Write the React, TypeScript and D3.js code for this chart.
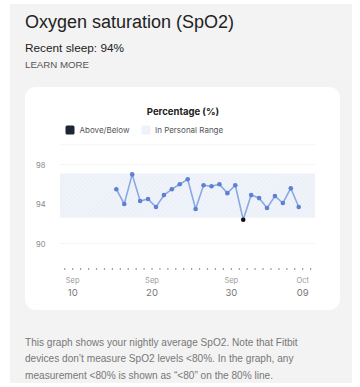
import React from "react";
import * as d3 from "d3";

// nightly SpO2 averages, Sep 15 – Oct 8
const startDay = Date.UTC(2023, 8, 15);
const values = [
  95.5, 94.0, 97.0, 94.3, 94.5, 93.7, 94.9, 95.5, 96.0, 96.5, 93.5, 95.9,
  95.8, 96.0, 95.1, 95.9, 92.4, 94.9, 94.6, 93.6, 94.8, 94.1, 95.6, 93.7,
];
const rangeLow = 92.6;
const rangeHigh = 97.1;
const yTicks = [98, 94, 90];
const gridValues = [100, 98, 90];
const xTickDates = [
  Date.UTC(2023, 8, 10),
  Date.UTC(2023, 8, 20),
  Date.UTC(2023, 8, 30),
  Date.UTC(2023, 9, 9),
];
const footerLines = [
  "This graph shows your nightly average SpO2. Note that Fitbit",
  "devices don\u2019t measure SpO2 levels <80%. In the graph, any",
  "measurement <80% is shown as \u201c<80\u201d on the 80% line.",
];

const DAY = 86400000;
const points = values.map((v, i) => ({ date: new Date(startDay + i * DAY + DAY / 2), v }));

export default function App() {
  const x = d3
    .scaleUtc()
    .domain([new Date(xTickDates[0]), new Date(xTickDates[3])])
    .range([72.7, 302.7]);
  const y = d3.scaleLinear().domain([90, 98]).range([243.5, 164.5]);
  const plotL = 60;
  const plotR = 315;

  const line = d3
    .line<{ date: Date; v: number }>()
    .x((d) => x(d.date))
    .y((d) => y(d.v));

  const axisDots = d3.utcDay.range(new Date(Date.UTC(2023, 8, 9)), new Date(Date.UTC(2023, 9, 11)));
  const monthFmt = d3.utcFormat("%b");
  const dayFmt = d3.utcFormat("%d");
  const chartFont = "Inter, Roboto, sans-serif";
  const headFont = "'Liberation Sans', Arial, sans-serif";

  return (
    <svg
      width={360}
      height={387}
      style={{ position: "absolute", left: 0, top: 0, background: "#fff" }}
    >
      <defs>
        <pattern id="hatch" width="3" height="3" patternUnits="userSpaceOnUse" patternTransform="rotate(45)">
          <rect width="3" height="3" fill="#f0f4fa" />
          <line x1="0" y1="0" x2="0" y2="3" stroke="#e2e9f4" strokeWidth="1" />
        </pattern>
      </defs>
      <rect x={10} y={4} width={342} height={379} fill="#f3f3f3" />
      <text x={25} y={27.5} fontFamily={headFont} fontSize={18} fill="#222">
        Oxygen saturation (SpO2)
      </text>
      <text x={25} y={51.5} fontFamily={headFont} fontSize={11.8} fill="#222">
        Recent sleep: 94%
      </text>
      <text x={25} y={68.3} fontFamily={headFont} fontSize={9.7} fill="#555">
        LEARN MORE
      </text>

      <rect x={25} y={87} width={315} height={223} rx={11} fill="#fff" />

      <text x={183} y={115} textAnchor="middle" fontFamily={chartFont} fontWeight={700} fontSize={9.5} fill="#222">
        Percentage (%)
      </text>
      <rect x={65.5} y={125.5} width={9} height={9} rx={1.5} fill="#1d2636" />
      <text x={79.5} y={132.5} fontFamily={chartFont} fontSize={8} fill="#555">
        Above/Below
      </text>
      <rect x={141.5} y={125.5} width={9} height={9} rx={1.5} fill="#eef2f9" />
      <text x={155} y={132.5} fontFamily={chartFont} fontSize={8} fill="#555">
        In Personal Range
      </text>

      {gridValues.map((g) => (
        <line key={g} x1={plotL} x2={plotR} y1={y(g)} y2={y(g)} stroke="#f4f4f4" strokeWidth={1} />
      ))}
      {yTicks.map((t) => (
        <text key={t} x={36} y={y(t) + 3} fontFamily={chartFont} fontSize={7.5} fill="#888">
          {t}
        </text>
      ))}

      <rect
        x={plotL}
        y={y(rangeHigh)}
        width={plotR - plotL}
        height={y(rangeLow) - y(rangeHigh)}
        fill="url(#hatch)"
      />

      <path d={line(points) || ""} fill="none" stroke="#8aa8e2" strokeWidth={1.6} strokeLinejoin="round" />
      {points.map((p, i) => {
        const out = p.v < rangeLow || p.v > rangeHigh;
        return (
          <circle key={i} cx={x(p.date)} cy={y(p.v)} r={2.3} fill={out ? "#111" : "#5d80d3"} />
        );
      })}

      {axisDots.map((d, i) => (
        <circle key={i} cx={x(d)} cy={269} r={0.7} fill="#666" />
      ))}
      {xTickDates.map((t) => (
        <g key={t} transform={`translate(${x(new Date(t))},0)`}>
          <text y={283} textAnchor="middle" fontFamily={chartFont} fontSize={7.5} fill="#999">
            {monthFmt(new Date(t))}
          </text>
          <text y={296} textAnchor="middle" fontFamily={chartFont} fontSize={9.5} fill="#777">
            {dayFmt(new Date(t))}
          </text>
        </g>
      ))}

      {footerLines.map((l, i) => (
        <text key={i} x={25} y={345.5 + i * 16.8} fontFamily={headFont} fontSize={10.1} fill="#777">
          {l}
        </text>
      ))}
    </svg>
  );
}
